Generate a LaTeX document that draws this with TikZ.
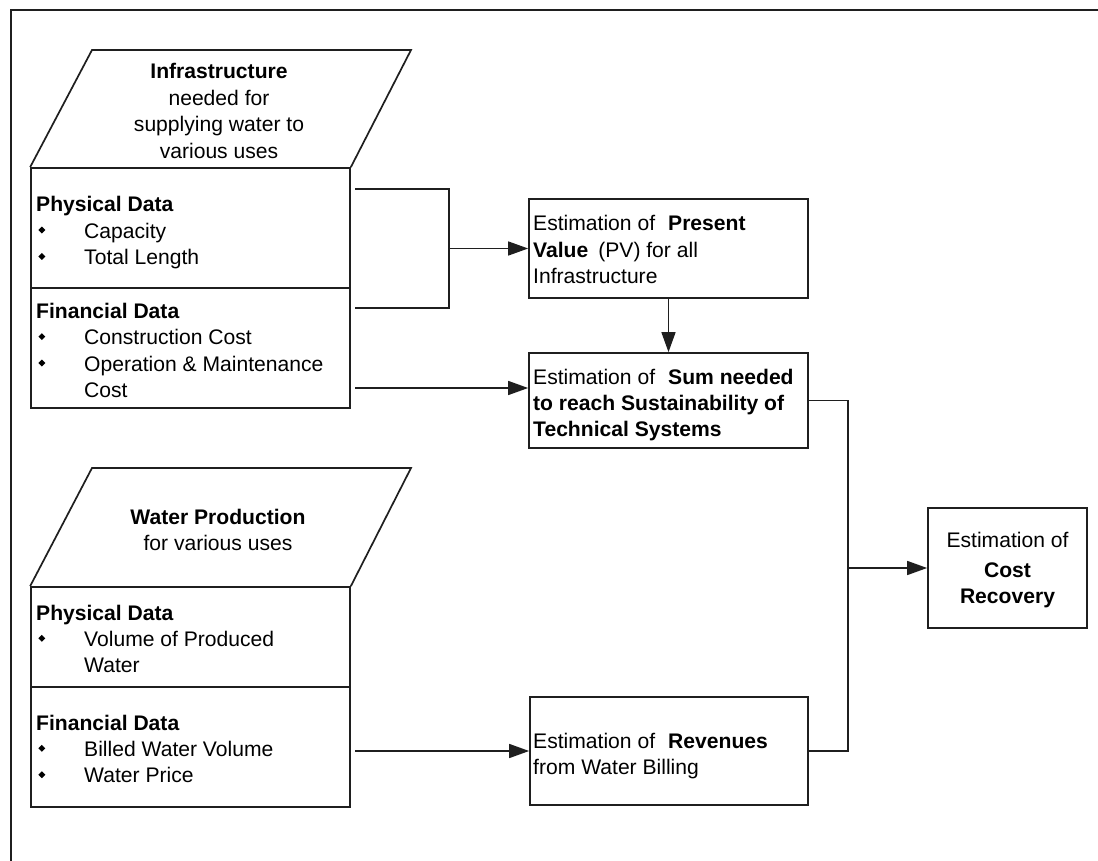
\documentclass[tikz,border=0pt]{standalone}
\usepackage{fontspec}
\usepackage{graphicx}
\setmainfont{Liberation Sans}
\usetikzlibrary{arrows.meta}

% small black diamond used as list bullet, followed by the item indent
\newcommand\bul{\makebox[48pt][l]{\hspace{2.2pt}\raisebox{4.6pt}{\rotatebox{45}{\rule{4.9pt}{4.9pt}}}}}
% text blocks whose baseline is the baseline of their first line
\newcommand\lblk[1]{\begin{tabular}[t]{@{}l@{}}#1\end{tabular}}
\newcommand\cblk[1]{\begin{tabular}[t]{@{}c@{}}#1\end{tabular}}

\tikzset{
  boxline/.style={draw=black!88, line width=1.7pt},
  conn/.style={draw=black!88, line width=1.5pt},
  tip/.style={-{Triangle[length=20pt,width=14pt]}},
  panel/.style={boxline, rectangle, inner sep=0, minimum width=#1},
  txt/.style={font=\fontsize{21.1}{26.4}\selectfont, inner sep=0, anchor=base west},
  ctxt/.style={font=\fontsize{21.1}{26.4}\selectfont, inner sep=0, anchor=base},
}

\begin{document}
\begin{tikzpicture}[x=1pt, y=-1pt, line join=miter]
\useasboundingbox (0,0) rectangle (1098,861);

% outer frame (only its top and left edges fall on the page)
\draw[boxline] (1110,10) -- (11,10) -- (11,870);

% ---- infrastructure block ----
\node[panel=319pt, minimum height=240pt] (infra) at (190.5,288) {};
\draw[boxline] (infra.north west) -- (92,50) -- (411,50) -- (infra.north east);
\draw[boxline] (infra.west) -- (infra.east);
\node[ctxt] (infrahead) at (219,79)
  {\cblk{\textbf{Infrastructure}\\needed for\\supplying water to\\various uses}};
\node[txt] (infraphys) at (36,211.7)
  {\lblk{\textbf{Physical Data}\\\bul Capacity\\\bul Total Length}};
\node[txt] (infrafin) at (36,318.3)
  {\lblk{\textbf{Financial Data}\\\bul Construction Cost\\\bul Operation \& Maintenance\\\hspace{48pt}Cost}};

% ---- water production block ----
\node[panel=319pt, minimum height=220pt] (water) at (190.5,697) {};
\coordinate (wdiv) at (0,687);
\draw[boxline] (water.north west) -- (92,468) -- (411,468) -- (water.north east);
\draw[boxline] (water.west |- wdiv) -- (water.east |- wdiv);
\node[ctxt] (waterhead) at (218,524)
  {\cblk{\textbf{Water Production}\\for various uses}};
\node[txt] (waterphys) at (36,620)
  {\lblk{\textbf{Physical Data}\\\bul Volume of Produced\\\hspace{48pt}Water}};
\node[txt] (waterfin) at (36,730)
  {\lblk{\textbf{Financial Data}\\\bul Billed Water Volume\\\bul Water Price}};

% ---- estimation boxes ----
\node[panel=279pt, minimum height=99pt] (pv) at (668.5,248.5) {};
\node[txt] (pvtext) at (533,231)
  {\lblk{Estimation of\hspace{13pt}\textbf{Present}\\\textbf{Value}\hspace{10pt}(PV) for all\\Infrastructure}};

\node[panel=279pt, minimum height=95pt] (sum) at (668.5,400.5) {};
\node[txt] (sumtext) at (533,384)
  {\lblk{Estimation of\hspace{13pt}\textbf{Sum needed}\\\textbf{to reach Sustainability of}\\\textbf{Technical Systems}}};

\node[panel=278pt, minimum height=108pt] (rev) at (669,751) {};
\node[txt] (revtext) at (533,748.5)
  {\lblk{Estimation of\hspace{13pt}\textbf{Revenues}\\from Water Billing}};

\node[panel=159pt, minimum height=120pt] (cost) at (1007.5,568) {};
\node[ctxt] (costtext) at (1007.5,547)
  {\cblk{Estimation of\\[4pt]\textbf{Cost}\\\textbf{Recovery}}};

% ---- connectors ----
\coordinate (physout) at (355,189);
\coordinate (finout)  at (355,308);
\coordinate (pvjoin)  at (449,248.5);
\coordinate (costout) at (355,388);
\coordinate (billout) at (355,751);
\coordinate (sumjoin) at (848,400.5);
\coordinate (revjoin) at (848,751);
\coordinate (recjoin) at (848,568);

\draw[conn] (physout) -| (pvjoin) |- (finout);
\draw[conn, tip] (pvjoin) -- (pv.west);
\draw[conn, tip] (pv.south) -- (sum.north);
\draw[conn, tip] (costout) -- (sum.west |- costout);
\draw[conn, tip] (billout) -- (rev.west);
\draw[conn] (sum.east) -- (sumjoin) -- (revjoin) -- (rev.east);
\draw[conn, tip] (recjoin) -- (cost.west);
\end{tikzpicture}
\end{document}
